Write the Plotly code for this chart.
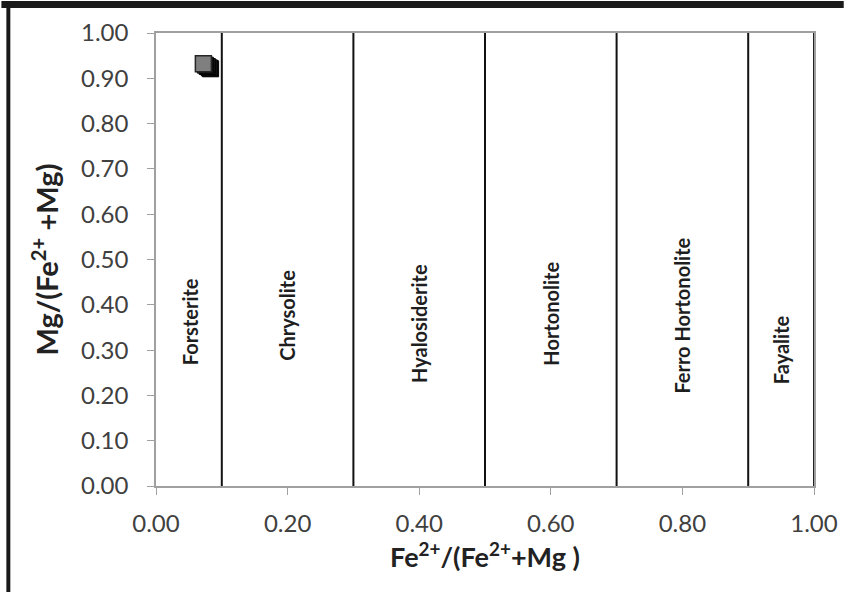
import plotly.graph_objects as go

# Data
boundaries = [0.1, 0.3, 0.5, 0.7, 0.9]
zone_names = ["Forsterite", "Chrysolite", "Hyalosiderite", "Hortonolite", "Ferro Hortonolite", "Fayalite"]
zone_x = [0.052, 0.2, 0.4, 0.6, 0.8, 0.95]
zone_y = [0.362, 0.377, 0.358, 0.38, 0.377, 0.30]
fe_ratio = [0.083, 0.081, 0.078, 0.075, 0.072]
mg_ratio = [0.921, 0.923, 0.926, 0.929, 0.932]
x_ticks = [0, 0.2, 0.4, 0.6, 0.8, 1.0]
y_ticks = [i / 10 for i in range(11)]

font_family = "Lato, 'Open Sans', sans-serif"

fig = go.Figure()

fig.add_trace(go.Scatter(
    x=fe_ratio[:-1], y=mg_ratio[:-1], mode="markers",
    marker=dict(symbol="square", size=16, color="#141414", line=dict(color="#000000", width=1)),
    showlegend=False, hoverinfo="skip"))
fig.add_trace(go.Scatter(
    x=fe_ratio[-1:], y=mg_ratio[-1:], mode="markers",
    marker=dict(symbol="square", size=16, color="#7f7f7f", line=dict(color="#262626", width=1.5)),
    showlegend=False))

shapes = []
for b in boundaries:
    shapes.append(dict(type="line", xref="x", yref="y", x0=b, x1=b, y0=0, y1=1,
                       line=dict(color="#111111", width=2)))
shapes.append(dict(type="line", xref="x", yref="y", x0=1, x1=1, y0=0, y1=1,
                   line=dict(color="#222222", width=2)))

L, R, T, B = 156, 820, 33, 486
def px(p):
    return (p - L) / (R - L)
def py(p):
    return (B - p) / (B - T)
shapes.append(dict(type="rect", xref="paper", yref="paper", x0=px(0), x1=px(850), y0=py(8), y1=py(1),
                   fillcolor="#1a1a1a", line=dict(width=0), layer="above"))
shapes.append(dict(type="rect", xref="paper", yref="paper", x0=px(5), x1=px(9), y0=py(592), y1=py(1),
                   fillcolor="#1a1a1a", line=dict(width=0), layer="above"))

annotations = []
for name, xx, yy in zip(zone_names, zone_x, zone_y):
    annotations.append(dict(x=xx, y=yy, xref="x", yref="y", text="<b>" + name + "</b>", showarrow=False,
                            textangle=-90, font=dict(family=font_family, size=20, color="#1e1e1e")))

fig.update_layout(
    width=850, height=592,
    margin=dict(l=L, r=850 - R, t=T, b=592 - B),
    paper_bgcolor="white", plot_bgcolor="white",
    shapes=shapes, annotations=annotations,
    font=dict(family=font_family),
    xaxis=dict(range=[0, 1], tickvals=x_ticks,
               ticktext=["%.2f" % v for v in x_ticks],
               showgrid=False, zeroline=False, showline=True, linecolor="#a0a0a0", linewidth=1.5,
               mirror=True, ticks="outside", ticklen=7, tickcolor="#a0a0a0",
               ticklabelstandoff=8,
               tickfont=dict(size=24, color="#404040"),
               title=dict(text="<b>Fe<sup>2+</sup>/(Fe<sup>2+</sup>+Mg )</b>",
                          font=dict(size=27, color="#222222", family=font_family), standoff=10)),
    yaxis=dict(range=[0, 1], tickvals=y_ticks,
               ticktext=["%.2f" % v for v in y_ticks],
               showgrid=False, zeroline=False, showline=True, linecolor="#a0a0a0", linewidth=1.5,
               mirror=True, ticks="outside", ticklen=7, tickcolor="#a0a0a0",
               ticklabelstandoff=14,
               tickfont=dict(size=24, color="#404040"),
               title=dict(text="<b>Mg/(Fe<sup>2+</sup> +Mg)</b>",
                          font=dict(size=29, color="#222222", family=font_family), standoff=14)),
)

fig.write_html("out.html", config={"displayModeBar": False},
               post_script="document.body.style.margin='0';document.body.style.overflow='hidden';")
